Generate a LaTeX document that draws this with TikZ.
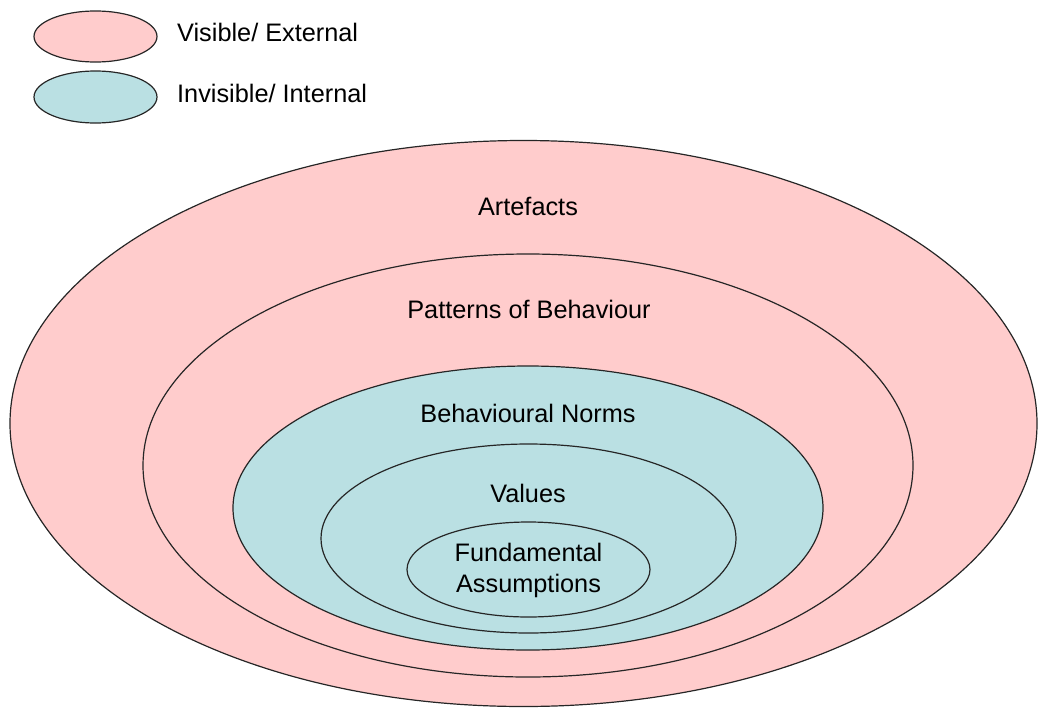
\documentclass[tikz,border=0pt]{standalone}
\usepackage{fontspec}
\setmainfont{Liberation Sans}
\usetikzlibrary{shapes.geometric}
\definecolor{extpink}{HTML}{FFCCCC}
\definecolor{intteal}{HTML}{BAE0E3}
\tikzset{
  ring/.style={ellipse, draw=black!85, line width=1.2pt, inner sep=0pt, outer sep=0pt},
  ext/.style={ring, fill=extpink},
  int/.style={ring, fill=intteal},
  lab/.style={font=\fontsize{25.3}{31}\selectfont, anchor=base, inner sep=0pt, align=center},
  leg/.style={font=\fontsize{25.3}{31}\selectfont, anchor=base west, inner sep=0pt}
}
\begin{document}
\begin{tikzpicture}[x=1pt,y=-1pt]
\useasboundingbox (0,0) rectangle (1038,707);
% legend
\node[ext, minimum width=123pt, minimum height=51pt] (legext) at (95.5,36.5) {};
\node[int, minimum width=123pt, minimum height=52pt] (legint) at (95.5,97) {};
\node[leg] (legexttxt) at (177,41) {Visible/ External};
\node[leg] (leginttxt) at (177,102) {Invisible/ Internal};
% rings
\node[ext, minimum width=1027pt, minimum height=566pt] (art) at (523.5,423.5) {};
\node[ext, minimum width=770pt, minimum height=423pt] (pat) at (528,465.5) {};
\node[int, minimum width=590pt, minimum height=284pt] (norm) at (528,508) {};
\node[int, minimum width=415pt, minimum height=189pt] (val) at (528.5,538.5) {};
\node[int, minimum width=243pt, minimum height=95pt] (fund) at (528.5,569.5) {};
% labels
\node[lab] (arttxt) at (528,215) {Artefacts};
\node[lab] (pattxt) at (529,318) {Patterns of Behaviour};
\node[lab] (normtxt) at (528,422) {Behavioural Norms};
\node[lab] (valtxt) at (528,502) {Values};
\node[lab] (fundtxt1) at (528.5,561) {Fundamental};
\node[lab] (fundtxt2) at (528.5,592) {Assumptions};
\end{tikzpicture}
\end{document}
